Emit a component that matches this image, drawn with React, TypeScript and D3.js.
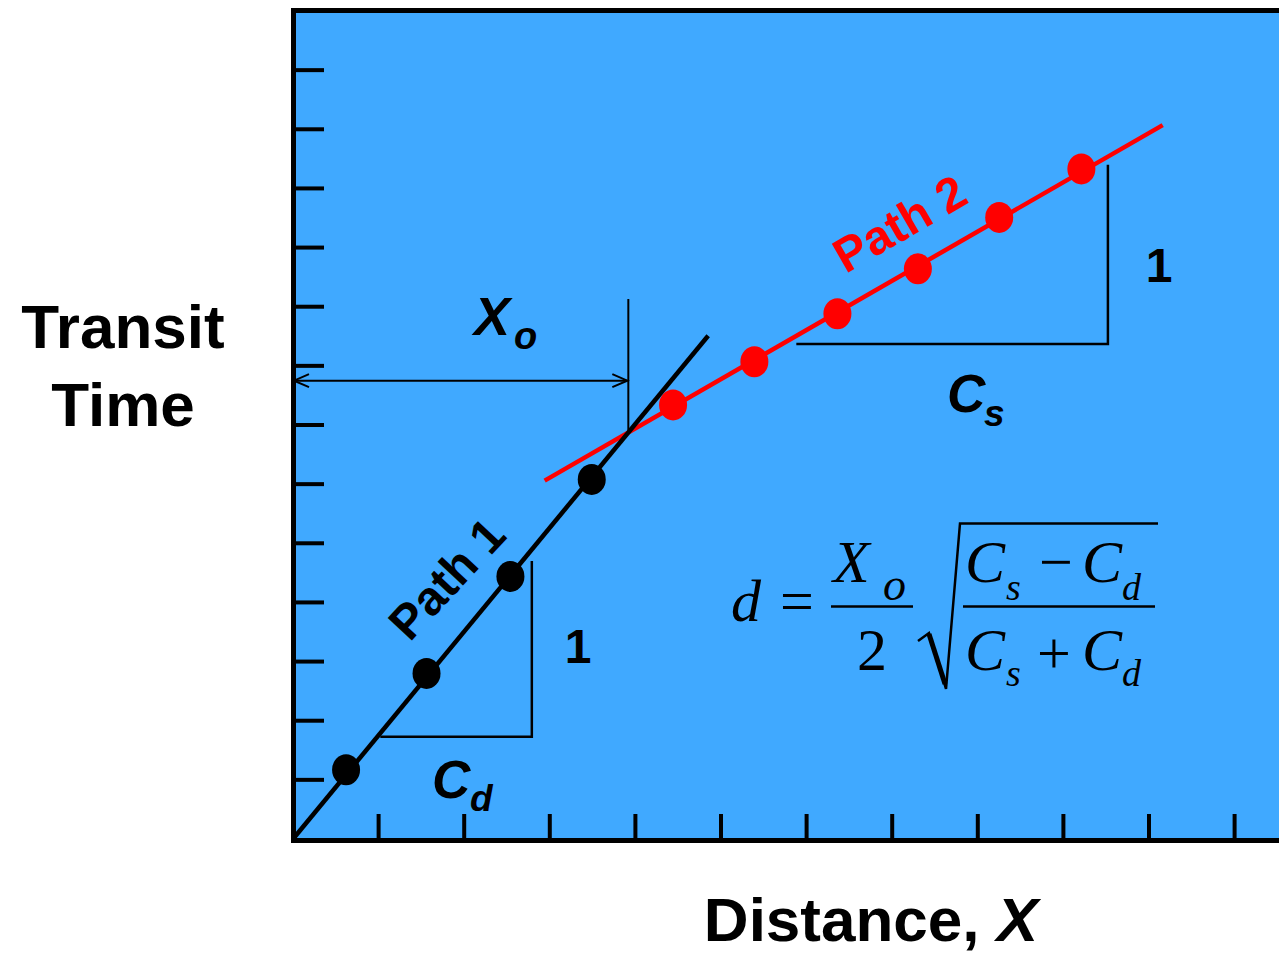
import React from 'react';
import * as d3 from 'd3';

// Path 1 (direct wave) observations
const path1X = [0.62, 1.56, 2.54, 3.49];
const path1Y = [1.17, 2.8, 4.44, 6.08];
// Path 2 (refracted wave) observations
const path2X = [4.44, 5.39, 6.36, 7.3, 8.25, 9.21];
const path2Y = [7.34, 8.07, 8.88, 9.64, 10.51, 11.33];
// fitted lines (endpoints)
const line1X = [0, 4.85];
const line1Y = [0, 8.51];
const line2X = [2.94, 10.16];
const line2Y = [6.06, 12.07];
// ticks
const xTicks = [1, 2, 3, 4, 5, 6, 7, 8, 9, 10, 11];
const yTicks = [1, 2, 3, 4, 5, 6, 7, 8, 9, 10, 11, 12, 13, 14];
// slope triangles
const tri1X = [1.02, 2.79];
const tri1Y = [1.73, 4.7];
const tri2X = [5.88, 9.52];
const tri2Y = [8.37, 11.4];
// crossover annotation
const xoArrowY = 7.75;
const xoTopY = 9.13;

const SANS = "'Liberation Sans', Arial, Helvetica, sans-serif";
const SERIF = "'Liberation Serif', 'Times New Roman', serif";
const BLUE = '#40A9FF';
const RED = '#FF0000';

export default function App() {
  const x = d3.scaleLinear().domain([0, 11]).range([293, 293 + 11 * 85.6]);
  const y = d3.scaleLinear().domain([0, 14]).range([839, 11]);
  const line = d3.line<[number, number]>().x(d => x(d[0])).y(d => y(d[1]));

  const s1 = (line1Y[1] - line1Y[0]) / (line1X[1] - line1X[0]);
  const s2 = (line2Y[1] - line2Y[0]) / (line2X[1] - line2X[0]);
  const xi = (line2Y[0] - s2 * line2X[0] - line1Y[0] + s1 * line1X[0]) / (s1 - s2);
  const yi = line1Y[0] + s1 * (xi - line1X[0]);

  const left = x(0);
  const right = 1279;
  const top = y(14);
  const bottom = y(0);

  const arrowY = y(xoArrowY);
  const ax0 = left + 1;
  const ax1 = x(xi) - 1;

  return (
    <svg width={1279} height={955} style={{ position: 'absolute', left: 0, top: 0 }}>
      <rect x={0} y={0} width={1279} height={955} fill="#ffffff" />
      <rect x={left} y={top} width={right - left} height={bottom - top} fill={BLUE} />

      {/* ticks */}
      {yTicks.map(t => (
        <line key={'y' + t} x1={left + 3} x2={left + 31} y1={y(t)} y2={y(t)} stroke="#000" strokeWidth={4} />
      ))}
      {xTicks.map(t => (
        <line key={'x' + t} x1={x(t)} x2={x(t)} y1={bottom} y2={bottom - 25} stroke="#000" strokeWidth={4} />
      ))}

      {/* frame */}
      <line x1={left - 2} x2={right} y1={top - 0.5} y2={top - 0.5} stroke="#000" strokeWidth={5} />
      <line x1={left + 0.5} x2={left + 0.5} y1={top - 3} y2={bottom + 4} stroke="#000" strokeWidth={5} />
      <line x1={left - 2} x2={right} y1={bottom + 1.5} y2={bottom + 1.5} stroke="#000" strokeWidth={5} />

      {/* slope triangles */}
      <polyline
        points={`${x(tri1X[0])},${y(tri1Y[0])} ${x(tri1X[1])},${y(tri1Y[0])} ${x(tri1X[1])},${y(tri1Y[1])}`}
        fill="none" stroke="#000" strokeWidth={2.5}
      />
      <polyline
        points={`${x(tri2X[0])},${y(tri2Y[0])} ${x(tri2X[1])},${y(tri2Y[0])} ${x(tri2X[1])},${y(tri2Y[1])}`}
        fill="none" stroke="#000" strokeWidth={2.5}
      />

      {/* Xo annotation */}
      <line x1={x(xi)} x2={x(xi)} y1={y(yi)} y2={y(xoTopY)} stroke="#000" strokeWidth={2} />
      <line x1={ax0} x2={ax1} y1={arrowY} y2={arrowY} stroke="#000" strokeWidth={2} />
      <path d={`M${ax0 + 15},${arrowY - 6.5} L${ax0},${arrowY} L${ax0 + 15},${arrowY + 6.5}`} fill="none" stroke="#000" strokeWidth={2} />
      <path d={`M${ax1 - 15},${arrowY - 6.5} L${ax1},${arrowY} L${ax1 - 15},${arrowY + 6.5}`} fill="none" stroke="#000" strokeWidth={2} />

      {/* fitted lines */}
      <path d={line([[line2X[0], line2Y[0]], [line2X[1], line2Y[1]]]) || ''} stroke={RED} strokeWidth={4.5} fill="none" />
      <path d={line([[line1X[0], line1Y[0]], [line1X[1], line1Y[1]]]) || ''} stroke="#000" strokeWidth={4.5} fill="none" />

      {/* data points */}
      {path1X.map((v, i) => (
        <ellipse key={'p1' + i} cx={x(v)} cy={y(path1Y[i])} rx={14} ry={15.5} fill="#000" />
      ))}
      {path2X.map((v, i) => (
        <ellipse key={'p2' + i} cx={x(v)} cy={y(path2Y[i])} rx={14} ry={15.5} fill={RED} />
      ))}

      {/* path labels */}
      <text x={459} y={590} transform="rotate(-47 459 590)" textAnchor="middle" fontFamily={SANS} fontWeight="bold" fontSize={48} fill="#000">Path 1</text>
      <text x={908} y={238} transform="rotate(-30 908 238)" textAnchor="middle" fontFamily={SANS} fontWeight="bold" fontSize={48} fill={RED}>Path 2</text>

      {/* slope labels */}
      <text x={578} y={663} textAnchor="middle" fontFamily={SANS} fontWeight="bold" fontSize={48}>1</text>
      <text x={1159} y={282} textAnchor="middle" fontFamily={SANS} fontWeight="bold" fontSize={48}>1</text>
      <text x={432} y={798} fontFamily={SANS} fontWeight="bold" fontStyle="italic" fontSize={53}>C</text>
      <text x={470} y={811} fontFamily={SANS} fontWeight="bold" fontStyle="italic" fontSize={37}>d</text>
      <text x={947} y={412} fontFamily={SANS} fontWeight="bold" fontStyle="italic" fontSize={53}>C</text>
      <text x={984} y={426} fontFamily={SANS} fontWeight="bold" fontStyle="italic" fontSize={37}>s</text>
      <text x={474} y={335} fontFamily={SANS} fontWeight="bold" fontStyle="italic" fontSize={54}>X</text>
      <text x={514} y={349} fontFamily={SANS} fontWeight="bold" fontStyle="italic" fontSize={38}>o</text>

      {/* formula */}
      <g fontFamily={SERIF} fontSize={60} fill="#000">
        <text x={731} y={621} fontStyle="italic">d</text>
        <text x={780} y={621}>=</text>
        <line x1={831} x2={913} y1={606.5} y2={606.5} stroke="#000" strokeWidth={2.5} />
        <text x={833} y={582} fontStyle="italic">X</text>
        <text x={883} y={600} fontStyle="italic" fontSize={46}>o</text>
        <text x={857} y={670}>2</text>
        <path d="M918,641 L929,633 L946,689 L960,523.5 L1158,523.5" fill="none" stroke="#000" strokeWidth={2.5} />
        <path d="M929,634 L945,684" fill="none" stroke="#000" strokeWidth={5} />
        <line x1={963} x2={1155} y1={606.5} y2={606.5} stroke="#000" strokeWidth={2.5} />
        <text x={965} y={582} fontStyle="italic">C</text>
        <text x={1006} y={600} fontStyle="italic" fontSize={38}>s</text>
        <text x={1039} y={582}>−</text>
        <text x={1082} y={582} fontStyle="italic">C</text>
        <text x={1122} y={600} fontStyle="italic" fontSize={38}>d</text>
        <text x={965} y={670} fontStyle="italic">C</text>
        <text x={1006} y={686} fontStyle="italic" fontSize={38}>s</text>
        <text x={1037} y={673}>+</text>
        <text x={1082} y={670} fontStyle="italic">C</text>
        <text x={1122} y={686} fontStyle="italic" fontSize={38}>d</text>
      </g>

      {/* axis titles */}
      <g fontFamily={SANS} fontWeight="bold" fontSize={62} fill="#000">
        <text x={123} y={348} textAnchor="middle">Transit</text>
        <text x={123} y={426} textAnchor="middle">Time</text>
        <text x={871} y={941} textAnchor="middle">
          Distance, <tspan fontStyle="italic">X</tspan>
        </text>
      </g>
    </svg>
  );
}
